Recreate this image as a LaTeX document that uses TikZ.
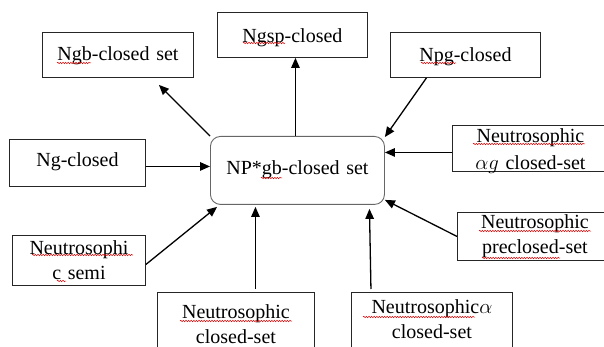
\documentclass[tikz,border=0pt]{standalone}
\usepackage{fontspec}
\setmainfont{Liberation Serif}
\usetikzlibrary{arrows.meta,decorations.pathmorphing}
\tikzset{
  box/.style={draw=black!85, line width=0.9pt, inner sep=0pt, align=center,
    anchor=north west, font=\fontsize{20}{25}\selectfont},
  hub/.style={box, draw=black!60, rounded corners=10pt},
  arr/.style={line width=1.3pt, -{Triangle[length=10pt,width=8.5pt]}},
  spellmark/.style={draw=red!85!black, line width=0.5pt,
    decorate, decoration={snake, amplitude=0.7pt, segment length=2.6pt}},
}
\begin{document}
\begin{tikzpicture}[x=1pt,y=-1pt]
\useasboundingbox (0,0) rectangle (604,347);
% central notion
\node[hub, text width=174pt, text height=38pt, text depth=30pt] (c) at (210,136) {NP*gb-closed set};
% notions it implies
\node[box, text width=151pt, text height=28pt, text depth=17pt] (ngb) at (42,32) {Ngb-closed set};
\node[box, text width=150pt, text height=30pt, text depth=15pt] (ngsp) at (217,12) {Ngsp-closed};
% notions implying it
\node[box, text width=150pt, text height=29pt, text depth=16pt] (npg) at (390,32) {Npg-closed};
\node[box, text width=136pt, text height=27pt, text depth=20pt] (ng) at (9,139) {Ng-closed};
\node[box, text width=156pt, text height=17pt, text depth=29pt] (ag) at (452,125) {Neutrosophic\\[2pt]$\alpha g$ closed-set};
\node[box, text width=155pt, text height=16pt, text depth=32pt] (pre) at (457,212) {Neutrosophic\\preclosed-set};
\node[box, text width=133pt, text height=19pt, text depth=31pt] (semi) at (12,235) {Neutrosophi\\c semi};
\node[box, text width=157pt, text height=26pt, text depth=50pt] (nc) at (157,292) {Neutrosophic\\closed-set};
\node[box, text width=161pt, text height=21pt, text depth=50pt] (na) at (351,292) {Neutrosophic$\alpha$\\closed-set};
% spell-check underlines
\foreach \xa/\xb/\yy in {57/91/63, 243/285/43, 421/456/63, 261/282/178,
    473/585/144, 479/591/231, 482/560/258, 32/133/255, 57/66/281,
    180/292/321, 363/475/317}
  \path[spellmark] (\xa,\yy) -- (\xb,\yy);
% connectors
\coordinate (agin) at ([yshift=-4pt]ag.west);
\coordinate (ngout) at ([yshift=-3.5pt]ng.east);
\draw[arr] (c.north west) -- ([xshift=41pt,yshift=-7pt]ngb.south);
\draw[arr] ([xshift=-2pt]c.north) -- ([xshift=-2pt]c.north |- ngsp.south);
\draw[arr] ([xshift=-39pt]npg.south) -- ([yshift=-1pt]c.north east);
\draw[arr] (agin) -- (c.east |- agin);
\draw[arr] (pre.west) -- ([yshift=5pt]c.south east);
\draw[arr] ([xshift=-61pt,yshift=3pt]na.north) -- ([xshift=72pt,yshift=-4pt]c.south);
\draw[arr] ([xshift=19.5pt,yshift=3pt]nc.north) -- ([xshift=-42pt,yshift=-2pt]c.south);
\draw[arr] ([yshift=-4pt]semi.east) -- ([xshift=7pt,yshift=-2pt]c.south west);
\draw[arr] (ngout) -- (c.west |- ngout);
\end{tikzpicture}
\end{document}
